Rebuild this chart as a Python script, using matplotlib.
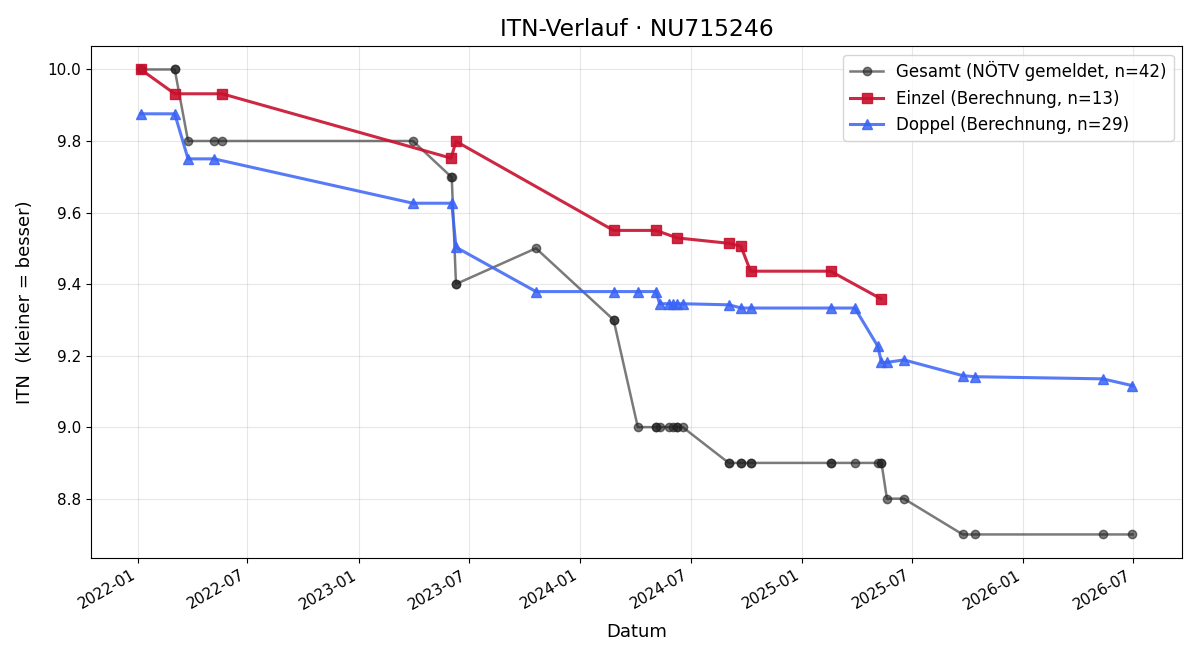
import matplotlib
matplotlib.use("Agg")
import matplotlib.pyplot as plt
import matplotlib.dates as mdates
import pandas as pd

gesamt_dates = [
    "2022-01-06", "2022-01-06", "2022-03-03", "2022-03-03", "2022-03-25", "2022-05-07",
    "2022-05-20", "2023-03-31", "2023-06-02", "2023-06-03", "2023-06-10", "2023-06-10",
    "2023-10-20", "2024-02-25", "2024-02-25", "2024-04-05", "2024-05-05", "2024-05-05",
    "2024-05-11", "2024-05-26", "2024-06-02", "2024-06-09", "2024-06-09", "2024-06-18",
    "2024-09-02", "2024-09-02", "2024-09-22", "2024-09-23", "2024-10-08", "2024-10-08",
    "2025-02-17", "2025-02-17", "2025-03-29", "2025-05-06", "2025-05-11", "2025-05-12",
    "2025-05-21", "2025-06-18", "2025-09-23", "2025-10-13", "2026-05-12", "2026-06-30",
]
gesamt_values = [
    10.0, 10.0, 10.0, 10.0, 9.8, 9.8,
    9.8, 9.8, 9.7, 9.7, 9.4, 9.4,
    9.5, 9.3, 9.3, 9.0, 9.0, 9.0,
    9.0, 9.0, 9.0, 9.0, 9.0, 9.0,
    8.9, 8.9, 8.9, 8.9, 8.9, 8.9,
    8.9, 8.9, 8.9, 8.9, 8.9, 8.9,
    8.8, 8.8, 8.7, 8.7, 8.7, 8.7,
]

einzel_dates = [
    "2022-01-06", "2022-03-03", "2022-05-20", "2023-06-02", "2023-06-10",
    "2024-02-25", "2024-05-05", "2024-06-09", "2024-09-02", "2024-09-22",
    "2024-10-08", "2025-02-17", "2025-05-11",
]
einzel_values = [
    10.0, 9.932, 9.932, 9.752, 9.799,
    9.55, 9.55, 9.529, 9.514, 9.506,
    9.436, 9.436, 9.359,
]

doppel_dates = [
    "2022-01-06", "2022-03-03", "2022-03-25", "2022-05-07", "2023-03-31",
    "2023-06-03", "2023-06-10", "2023-10-20", "2024-02-25", "2024-04-05",
    "2024-05-05", "2024-05-11", "2024-05-26", "2024-06-02", "2024-06-09",
    "2024-06-18", "2024-09-02", "2024-09-23", "2024-10-08", "2025-02-17",
    "2025-03-29", "2025-05-06", "2025-05-12", "2025-05-21", "2025-06-18",
    "2025-09-23", "2025-10-13", "2026-05-12", "2026-06-30",
]
doppel_values = [
    9.876, 9.876, 9.75, 9.75, 9.626,
    9.626, 9.503, 9.379, 9.379, 9.379,
    9.379, 9.345, 9.345, 9.345, 9.345,
    9.345, 9.342, 9.333, 9.333, 9.333,
    9.333, 9.226, 9.181, 9.181, 9.188,
    9.144, 9.141, 9.135, 9.116,
]

fig, ax = plt.subplots(figsize=(12, 6.6), dpi=100)

ax.plot(pd.to_datetime(gesamt_dates), gesamt_values, marker="o", ms=6, lw=1.8,
        color="#222222", alpha=0.6, label=f"Gesamt (NÖTV gemeldet, n={len(gesamt_values)})")
ax.plot(pd.to_datetime(einzel_dates), einzel_values, marker="s", ms=7.5, lw=2.2,
        color="#c8102e", alpha=0.9, label=f"Einzel (Berechnung, n={len(einzel_values)})")
ax.plot(pd.to_datetime(doppel_dates), doppel_values, marker="^", ms=7.5, lw=2.2,
        color="#3a63f5", alpha=0.85, label=f"Doppel (Berechnung, n={len(doppel_values)})")

ax.set_title("ITN-Verlauf · NU715246", fontsize=16.8, pad=7)
ax.set_xlabel("Datum", fontsize=13, labelpad=8)
ax.set_ylabel("ITN  (kleiner = besser)", fontsize=13, labelpad=10)
ax.grid(True, alpha=0.3)
ax.xaxis.set_major_locator(mdates.MonthLocator(bymonth=[1, 7]))
ax.xaxis.set_major_formatter(mdates.DateFormatter("%Y-%m"))
ax.tick_params(labelsize=11)
ax.legend(loc="upper right", fontsize=12)
fig.autofmt_xdate()
fig.subplots_adjust(left=0.076, right=0.985, top=0.93, bottom=0.155)
fig.savefig("out.png", dpi=100)
